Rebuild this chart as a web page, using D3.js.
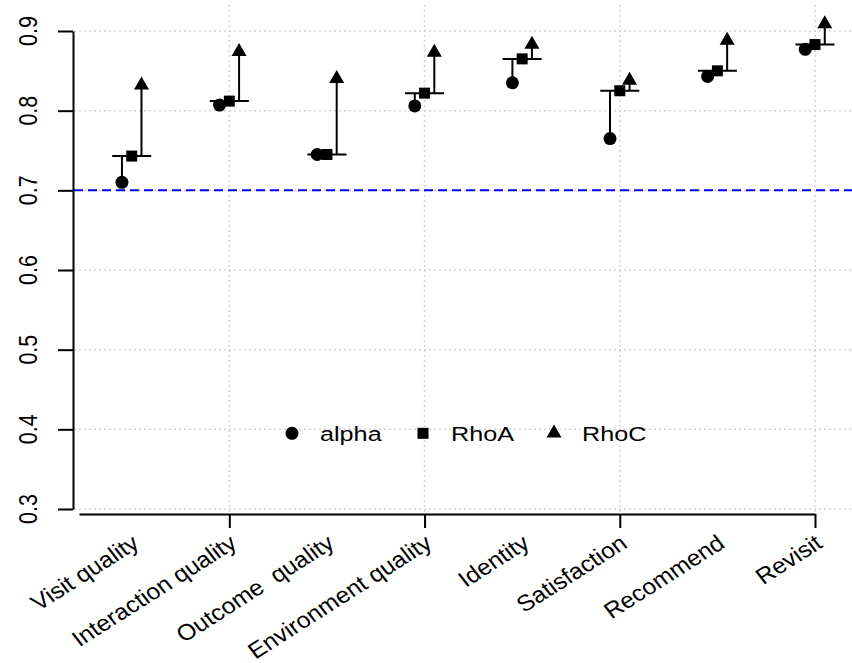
<!DOCTYPE html>
<html>
<head>
<meta charset="utf-8">
<script src="https://cdn.jsdelivr.net/npm/d3@7"></script>
<style>
  body { margin: 0; background: #fff; }
  svg { display: block; font-family: "Liberation Sans", Arial, Helvetica, sans-serif; }
</style>
</head>
<body>
<script>
"use strict";

(function() {

const width = 852;
const height = 663;
const stretch = 1.2; // picture is wider than it is tall, text gets the same squeeze

// reliability measures per construct
const categories = ["Visit quality", "Interaction quality", "Outcome  quality", "Environment quality",
                    "Identity", "Satisfaction", "Recommend", "Revisit"];
const alpha = [0.710, 0.807, 0.745, 0.806, 0.835, 0.765, 0.843, 0.877];
const rhoA  = [0.743, 0.812, 0.745, 0.822, 0.865, 0.825, 0.850, 0.883];
const rhoC  = [0.832, 0.874, 0.840, 0.873, 0.883, 0.838, 0.888, 0.909];

const yTicks = [0.3, 0.4, 0.5, 0.6, 0.7, 0.8, 0.9];
const xTicks = [2, 4, 6, 8];
const threshold = 0.7;
const legendLabels = ["alpha", "RhoA", "RhoC"];

let x = d3.scaleLinear()
    .domain([0.46, 8])
    .range([79, 815]);

let y = d3.scaleLinear()
    .domain([0.3, 0.9])
    .range([509, 31]);

let svg = d3.select("body").append("svg")
    .attr("width", width)
    .attr("height", height);

// grid
svg.append("g").selectAll("line")
    .data(yTicks)
    .enter()
    .append("line")
    .attr("x1", 74).attr("x2", width)
    .attr("y1", d => y(d)).attr("y2", d => y(d))
    .style("stroke", "#d3d3d3")
    .style("stroke-width", 1.5)
    .style("stroke-dasharray", "2,3");

svg.append("g").selectAll("line")
    .data(xTicks)
    .enter()
    .append("line")
    .attr("x1", d => x(d)).attr("x2", d => x(d))
    .attr("y1", 5).attr("y2", 514)
    .style("stroke", "#d3d3d3")
    .style("stroke-width", 1.5)
    .style("stroke-dasharray", "2,3");

// 0.7 reference line
svg.append("line")
    .attr("x1", 74).attr("x2", width)
    .attr("y1", y(threshold)).attr("y2", y(threshold))
    .style("stroke", "#0000ff")
    .style("stroke-width", 2)
    .style("stroke-dasharray", "9,5");

// y axis
let yAxis = svg.append("g")
    .attr("transform", "translate(73,0)")
    .call(d3.axisLeft(y).tickValues(yTicks).tickSize(15).tickSizeOuter(0).tickFormat(""));
yAxis.selectAll("path, line").style("stroke", "#000").style("stroke-width", 2);

svg.append("g").selectAll("text")
    .data(yTicks)
    .enter()
    .append("text")
    .attr("transform", d => "translate(37," + y(d) + ") scale(" + stretch + ",1) rotate(-90)")
    .attr("text-anchor", "middle")
    .style("font-size", "21.5px")
    .text(d => d.toFixed(1));

// x axis
let xAxis = svg.append("g")
    .attr("transform", "translate(0,514)")
    .call(d3.axisBottom(x).tickValues(xTicks).tickSize(14).tickSizeOuter(0).tickFormat(""));
xAxis.selectAll("path, line").style("stroke", "#000").style("stroke-width", 2);

svg.append("g").selectAll("text")
    .data(categories)
    .enter()
    .append("text")
    .attr("transform", (d, i) => "translate(" + (x(i + 1) + 4) + ",540) scale(1.1,1) rotate(-35)")
    .attr("text-anchor", "end")
    .attr("dy", "0.35em")
    .style("font-size", "22.5px")
    .style("white-space", "pre")
    .text(d => d);

// step lines
let groups = svg.append("g").selectAll("g")
    .data(categories)
    .enter()
    .append("g");

groups.append("line")
    .attr("x1", (d, i) => x(i + 0.8)).attr("x2", (d, i) => x(i + 1.2))
    .attr("y1", (d, i) => y(rhoA[i])).attr("y2", (d, i) => y(rhoA[i]));
groups.append("line")
    .attr("x1", (d, i) => x(i + 0.9)).attr("x2", (d, i) => x(i + 0.9))
    .attr("y1", (d, i) => y(alpha[i])).attr("y2", (d, i) => y(rhoA[i]));
groups.append("line")
    .attr("x1", (d, i) => x(i + 1.1)).attr("x2", (d, i) => x(i + 1.1))
    .attr("y1", (d, i) => y(rhoA[i])).attr("y2", (d, i) => y(rhoC[i]));
groups.selectAll("line").style("stroke", "#000").style("stroke-width", 2);

const tri = "M0,-8.7L7.5,4.3L-7.5,4.3Z";

groups.append("circle")
    .attr("cx", (d, i) => x(i + 0.9))
    .attr("cy", (d, i) => y(alpha[i]))
    .attr("r", 6.5);
groups.append("rect")
    .attr("x", (d, i) => x(i + 1) - 5.5)
    .attr("y", (d, i) => y(rhoA[i]) - 5.5)
    .attr("width", 11).attr("height", 11);
groups.append("path")
    .attr("d", tri)
    .attr("transform", (d, i) => "translate(" + x(i + 1.1) + "," + y(rhoC[i]) + ")");

// legend
let legend = svg.append("g")
    .attr("transform", "translate(0," + y(0.395) + ")");
let items = legend.selectAll("g")
    .data(legendLabels)
    .enter()
    .append("g")
    .attr("transform", (d, i) => "translate(" + (292 + i * 131) + ",0)");
items.filter((d, i) => i === 0).append("circle").attr("r", 6.5);
items.filter((d, i) => i === 1).append("rect").attr("x", -5.5).attr("y", -5.5).attr("width", 11).attr("height", 11);
items.filter((d, i) => i === 2).append("path").attr("d", tri);
items.append("text")
    .attr("transform", "translate(28,0) scale(" + stretch + ",1)")
    .attr("dy", "0.36em")
    .style("font-size", "21px")
    .text(d => d);

})();
</script>
</body>
</html>
